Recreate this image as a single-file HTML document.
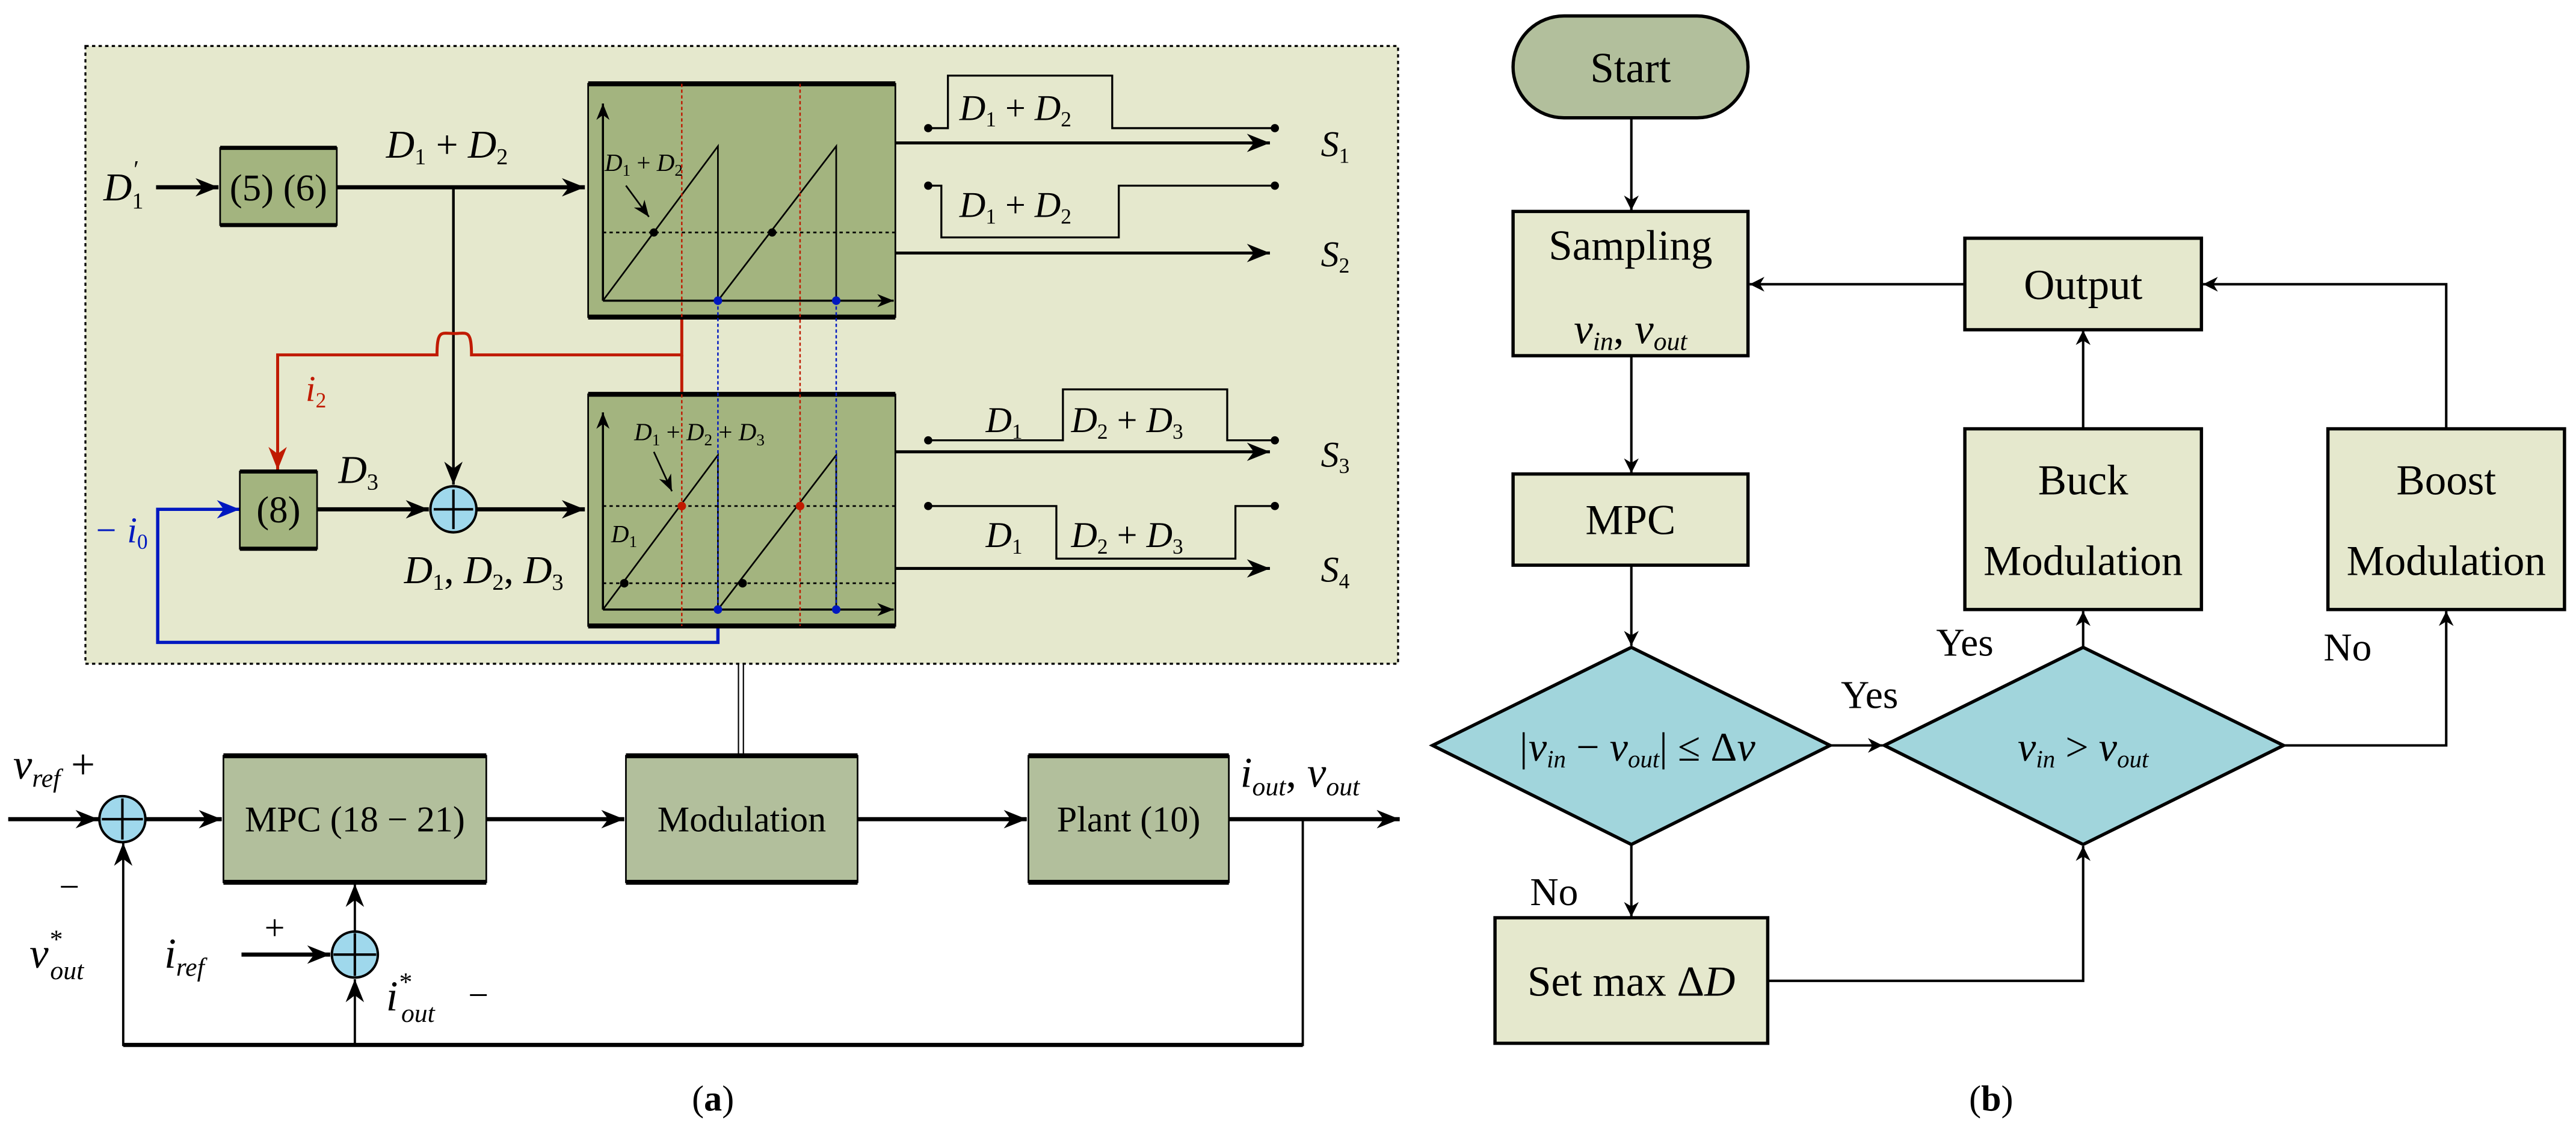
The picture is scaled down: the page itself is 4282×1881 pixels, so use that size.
<!DOCTYPE html>
<html><head><meta charset="utf-8"><style>
html,body{margin:0;padding:0;background:#fff;}
svg{display:block;font-family:"Liberation Serif","DejaVu Serif",serif;}
svg text{font-family:"Liberation Serif","DejaVu Serif",serif;fill:#000;}
.it{font-style:italic;}
</style></head><body>
<svg width="4282" height="1881" viewBox="0 0 1568 689" preserveAspectRatio="none" xmlns="http://www.w3.org/2000/svg" font-family="Liberation Serif, DejaVu Serif, serif">
<defs>
<marker id="a" viewBox="0 0 10 10" refX="10" refY="5" markerWidth="9" markerHeight="9" markerUnits="userSpaceOnUse" orient="auto"><path d="M0,0 L10,5 L0,10 L3,5 z" fill="#000"/></marker>
<marker id="ab" viewBox="0 0 10 10" refX="10" refY="5" markerWidth="14" markerHeight="14" markerUnits="userSpaceOnUse" orient="auto"><path d="M0,1 L10,5 L0,9 L3,5 z" fill="#000"/></marker>
<marker id="ar" viewBox="0 0 10 10" refX="10" refY="5" markerWidth="14" markerHeight="14" markerUnits="userSpaceOnUse" orient="auto"><path d="M0,1 L10,5 L0,9 L3,5 z" fill="#c01a00"/></marker>
<marker id="au" viewBox="0 0 10 10" refX="10" refY="5" markerWidth="14" markerHeight="14" markerUnits="userSpaceOnUse" orient="auto"><path d="M0,1 L10,5 L0,9 L3,5 z" fill="#0018c0"/></marker>
<marker id="am" viewBox="0 0 10 10" refX="10" refY="5" markerWidth="10" markerHeight="10" markerUnits="userSpaceOnUse" orient="auto"><path d="M0,1 L10,5 L0,9 L3,5 z" fill="#000"/></marker>
</defs>

<!-- dotted panel -->
<rect x="52" y="28" width="799" height="376" fill="#e5e8cd" stroke="#000" stroke-width="1.2" stroke-dasharray="2,2"/>

<!-- (5)(6) -->
<rect x="134" y="90" width="71" height="47" fill="#a3b47f" stroke="#000" stroke-width="1"/>
<line x1="134" y1="90" x2="205" y2="90" stroke="#000" stroke-width="2.5"/><line x1="134" y1="137" x2="205" y2="137" stroke="#000" stroke-width="2.5"/>
<text x="169.5" y="122" font-size="23" text-anchor="middle">(5) (6)</text>
<text x="63" y="122" font-size="24" class="it">D<tspan font-size="14" dy="5" font-style="normal">1</tspan><tspan dx="-6" dy="-19" font-size="15" font-style="normal">′</tspan></text>
<line x1="95" y1="114" x2="133" y2="114" stroke="#000" stroke-width="2.5" marker-end="url(#ab)"/>
<line x1="205" y1="114" x2="356" y2="114" stroke="#000" stroke-width="2.5" marker-end="url(#ab)"/>
<text x="235" y="96" font-size="24" class="it">D<tspan font-size="14" dy="4" font-style="normal">1</tspan><tspan dy="-4" font-style="normal"> + </tspan>D<tspan font-size="14" dy="4" font-style="normal">2</tspan></text>
<line x1="276" y1="114" x2="276" y2="295" stroke="#000" stroke-width="1.6" marker-end="url(#ab)"/>

<!-- red path -->
<path d="M415,193 L415,216 L287,216 C287,200 284,203 276.5,203 C269,203 266,200 266,216 L169,216 L169,286" fill="none" stroke="#c01a00" stroke-width="1.8" marker-end="url(#ar)"/>
<line x1="415" y1="216" x2="415" y2="240" stroke="#c01a00" stroke-width="1.8"/>
<text x="186" y="244" font-size="22" class="it" fill="#c01a00" style="fill:#c01a00">i<tspan font-size="13" dy="4" font-style="normal">2</tspan></text>

<!-- blue path -->
<path d="M437,371 L437,391 L96,391 L96,310 L146,310" fill="none" stroke="#0018c0" stroke-width="2" marker-end="url(#au)"/>
<text x="57" y="330" font-size="22" class="it" style="fill:#0018c0">− i<tspan font-size="13" dy="4" font-style="normal">0</tspan></text>

<!-- (8) -->
<rect x="146" y="287" width="47" height="47" fill="#a3b47f" stroke="#000" stroke-width="1"/>
<line x1="146" y1="287" x2="193" y2="287" stroke="#000" stroke-width="2.5"/><line x1="146" y1="334" x2="193" y2="334" stroke="#000" stroke-width="2.5"/>
<text x="169.5" y="318" font-size="23" text-anchor="middle">(8)</text>
<text x="206" y="294" font-size="24" class="it">D<tspan font-size="14" dy="4" font-style="normal">3</tspan></text>
<line x1="193" y1="310" x2="261" y2="310" stroke="#000" stroke-width="2.5" marker-end="url(#ab)"/>
<circle cx="276" cy="310" r="14" fill="#9fd8ec" stroke="#000" stroke-width="1.5"/>
<line x1="264" y1="310" x2="288" y2="310" stroke="#000" stroke-width="1.5"/><line x1="276" y1="298" x2="276" y2="322" stroke="#000" stroke-width="1.5"/>
<line x1="290" y1="310" x2="356" y2="310" stroke="#000" stroke-width="2.5" marker-end="url(#ab)"/>
<text x="246" y="355" font-size="24" class="it">D<tspan font-size="14" dy="4" font-style="normal">1</tspan><tspan dy="-4" font-style="normal">, </tspan>D<tspan font-size="14" dy="4" font-style="normal">2</tspan><tspan dy="-4" font-style="normal">, </tspan>D<tspan font-size="14" dy="4" font-style="normal">3</tspan></text>

<!-- PWM box 1 -->
<rect x="358" y="51" width="187" height="142" fill="#a3b47f" stroke="#000" stroke-width="1"/>
<line x1="358" y1="51" x2="545" y2="51" stroke="#000" stroke-width="3"/><line x1="358" y1="193" x2="545" y2="193" stroke="#000" stroke-width="3"/>
<line x1="367" y1="183" x2="367" y2="63" stroke="#000" stroke-width="1.3" marker-end="url(#am)"/>
<line x1="367" y1="183" x2="544" y2="183" stroke="#000" stroke-width="1.3" marker-end="url(#am)"/>
<path d="M367,183 L437,89 L437,183 L509,89 L509,183" fill="none" stroke="#000" stroke-width="1"/>
<line x1="367" y1="141.5" x2="545" y2="141.5" stroke="#000" stroke-width="1" stroke-dasharray="2,2"/>
<circle cx="398" cy="141.5" r="2.5" fill="#000"/><circle cx="470" cy="141.5" r="2.5" fill="#000"/>
<text x="368" y="104" font-size="15" class="it">D<tspan font-size="10" dy="3" font-style="normal">1</tspan><tspan dy="-3" font-style="normal"> + </tspan>D<tspan font-size="10" dy="3" font-style="normal">2</tspan></text>
<line x1="381" y1="113" x2="395" y2="132" stroke="#000" stroke-width="1" marker-end="url(#am)"/>

<!-- PWM box 2 -->
<rect x="358" y="240" width="187" height="141" fill="#a3b47f" stroke="#000" stroke-width="1"/>
<line x1="358" y1="240" x2="545" y2="240" stroke="#000" stroke-width="3"/><line x1="358" y1="381" x2="545" y2="381" stroke="#000" stroke-width="3"/>
<line x1="367" y1="371" x2="367" y2="251" stroke="#000" stroke-width="1.3" marker-end="url(#am)"/>
<line x1="367" y1="371" x2="544" y2="371" stroke="#000" stroke-width="1.3" marker-end="url(#am)"/>
<path d="M367,371 L437,277 L437,371 L509,277 L509,371" fill="none" stroke="#000" stroke-width="1"/>
<line x1="367" y1="308" x2="545" y2="308" stroke="#000" stroke-width="1" stroke-dasharray="2,2"/>
<line x1="367" y1="355" x2="545" y2="355" stroke="#000" stroke-width="1" stroke-dasharray="2,2"/>
<text x="386" y="268" font-size="15" class="it">D<tspan font-size="10" dy="3" font-style="normal">1</tspan><tspan dy="-3" font-style="normal"> + </tspan>D<tspan font-size="10" dy="3" font-style="normal">2</tspan><tspan dy="-3" font-style="normal"> + </tspan>D<tspan font-size="10" dy="3" font-style="normal">3</tspan></text>
<line x1="398" y1="275" x2="409" y2="299" stroke="#000" stroke-width="1" marker-end="url(#am)"/>
<text x="372" y="330" font-size="15" class="it">D<tspan font-size="10" dy="3" font-style="normal">1</tspan></text>

<!-- red/blue dotted verticals -->
<line x1="415" y1="51" x2="415" y2="381" stroke="#c01a00" stroke-width="0.9" stroke-dasharray="2,1.5"/>
<line x1="487" y1="51" x2="487" y2="381" stroke="#c01a00" stroke-width="0.9" stroke-dasharray="2,1.5"/>
<line x1="437" y1="183" x2="437" y2="371" stroke="#0018c0" stroke-width="0.9" stroke-dasharray="2,1.5"/>
<line x1="509" y1="183" x2="509" y2="371" stroke="#0018c0" stroke-width="0.9" stroke-dasharray="2,1.5"/>
<circle cx="437" cy="183" r="2.6" fill="#0018c0"/><circle cx="509" cy="183" r="2.6" fill="#0018c0"/>
<circle cx="437" cy="371" r="2.6" fill="#0018c0"/><circle cx="509" cy="371" r="2.6" fill="#0018c0"/>
<circle cx="415" cy="308" r="2.6" fill="#c01a00"/><circle cx="487" cy="308" r="2.6" fill="#c01a00"/>
<circle cx="380" cy="355" r="2.6" fill="#000"/><circle cx="452" cy="355" r="2.6" fill="#000"/>

<!-- outputs -->
<g stroke="#000" fill="none">
<line x1="545" y1="87" x2="773" y2="87" stroke-width="1.8" marker-end="url(#ab)"/>
<line x1="545" y1="154" x2="773" y2="154" stroke-width="1.8" marker-end="url(#ab)"/>
<line x1="545" y1="275" x2="773" y2="275" stroke-width="1.8" marker-end="url(#ab)"/>
<line x1="545" y1="346" x2="773" y2="346" stroke-width="1.8" marker-end="url(#ab)"/>
<path d="M565,78 L577,78 L577,46 L677,46 L677,78 L776,78" stroke-width="1.2"/>
<path d="M565,113 L573,113 L573,144.5 L681,144.5 L681,113 L776,113" stroke-width="1.2"/>
<path d="M565,268 L647,268 L647,237 L747,237 L747,268 L776,268" stroke-width="1.2"/>
<path d="M565,308 L643,308 L643,340 L752,340 L752,308 L776,308" stroke-width="1.2"/>
</g>
<g fill="#000"><circle cx="565" cy="78" r="2.5"/><circle cx="776" cy="78" r="2.5"/><circle cx="565" cy="113" r="2.5"/><circle cx="776" cy="113" r="2.5"/>
<circle cx="565" cy="268" r="2.5"/><circle cx="776" cy="268" r="2.5"/><circle cx="565" cy="308" r="2.5"/><circle cx="776" cy="308" r="2.5"/></g>
<g font-size="22">
<text x="584" y="73" class="it">D<tspan font-size="13" dy="4" font-style="normal">1</tspan><tspan dy="-4" font-style="normal"> + </tspan>D<tspan font-size="13" dy="4" font-style="normal">2</tspan></text>
<text x="584" y="132" class="it">D<tspan font-size="13" dy="4" font-style="normal">1</tspan><tspan dy="-4" font-style="normal"> + </tspan>D<tspan font-size="13" dy="4" font-style="normal">2</tspan></text>
<text x="600" y="263" class="it">D<tspan font-size="13" dy="4" font-style="normal">1</tspan></text>
<text x="652" y="263" class="it">D<tspan font-size="13" dy="4" font-style="normal">2</tspan><tspan dy="-4" font-style="normal"> + </tspan>D<tspan font-size="13" dy="4" font-style="normal">3</tspan></text>
<text x="600" y="333" class="it">D<tspan font-size="13" dy="4" font-style="normal">1</tspan></text>
<text x="652" y="333" class="it">D<tspan font-size="13" dy="4" font-style="normal">2</tspan><tspan dy="-4" font-style="normal"> + </tspan>D<tspan font-size="13" dy="4" font-style="normal">3</tspan></text>
<text x="804" y="95" class="it">S<tspan font-size="13" dy="4" font-style="normal">1</tspan></text>
<text x="804" y="162" class="it">S<tspan font-size="13" dy="4" font-style="normal">2</tspan></text>
<text x="804" y="284" class="it">S<tspan font-size="13" dy="4" font-style="normal">3</tspan></text>
<text x="804" y="354" class="it">S<tspan font-size="13" dy="4" font-style="normal">4</tspan></text>
</g>

<!-- double line -->
<line x1="449.5" y1="404" x2="449.5" y2="460" stroke="#000" stroke-width="0.8"/>
<line x1="452.5" y1="404" x2="452.5" y2="460" stroke="#000" stroke-width="0.8"/>

<!-- lower control loop -->
<g stroke="#000" fill="none" stroke-width="2.5">
<line x1="5" y1="498.6" x2="60" y2="498.6" marker-end="url(#ab)"/>
<line x1="89" y1="498.6" x2="135" y2="498.6" marker-end="url(#ab)"/>
<line x1="296" y1="498.6" x2="380" y2="498.6" marker-end="url(#ab)"/>
<line x1="522" y1="498.6" x2="625" y2="498.6" marker-end="url(#ab)"/>
<line x1="748" y1="498.6" x2="852" y2="498.6" marker-end="url(#ab)"/>
<line x1="147" y1="581" x2="201" y2="581" marker-end="url(#ab)"/>
</g>
<g stroke="#000" fill="none" stroke-width="1.4">
<path d="M793,498.6 L793,636 L75,636 L75,513" marker-end="url(#ab)"/>
<line x1="216" y1="636" x2="216" y2="596" marker-end="url(#ab)"/>
<line x1="216" y1="567" x2="216" y2="538" marker-end="url(#ab)"/>
</g>
<line x1="75" y1="636" x2="793" y2="636" stroke="#000" stroke-width="2.5"/>
<circle cx="74.5" cy="498.6" r="14" fill="#9fd8ec" stroke="#000" stroke-width="1.5"/>
<line x1="62" y1="498.6" x2="87" y2="498.6" stroke="#000" stroke-width="1.5"/><line x1="74.5" y1="486" x2="74.5" y2="511" stroke="#000" stroke-width="1.5"/>
<circle cx="216" cy="581" r="14" fill="#9fd8ec" stroke="#000" stroke-width="1.5"/>
<line x1="203" y1="581" x2="229" y2="581" stroke="#000" stroke-width="1.5"/><line x1="216" y1="568" x2="216" y2="594" stroke="#000" stroke-width="1.5"/>

<g fill="#b2bf9c" stroke="#000" stroke-width="1">
<rect x="136" y="460" width="160" height="77"/><rect x="381" y="460" width="141" height="77"/><rect x="626" y="460" width="122" height="77"/>
</g>
<g stroke="#000" stroke-width="3">
<line x1="136" y1="460" x2="296" y2="460"/><line x1="136" y1="537" x2="296" y2="537"/>
<line x1="381" y1="460" x2="522" y2="460"/><line x1="381" y1="537" x2="522" y2="537"/>
<line x1="626" y1="460" x2="748" y2="460"/><line x1="626" y1="537" x2="748" y2="537"/>
</g>
<g font-size="22" text-anchor="middle">
<text x="216" y="506">MPC (18 − 21)</text>
<text x="451.5" y="506">Modulation</text>
<text x="687" y="506">Plant (10)</text>
</g>
<g font-size="26">
<text x="8" y="474" class="it">v<tspan font-size="16" dy="5">ref</tspan><tspan dy="-5" font-style="normal"> +</tspan></text>
<text x="36" y="547" font-size="22">−</text>
<text x="18" y="589" class="it">v<tspan font-size="16" dy="-12">*</tspan><tspan font-size="16" dx="-7" dy="19">out</tspan></text>
<text x="100" y="589" class="it">i<tspan font-size="16" dy="5">ref</tspan></text>
<text x="161" y="572" font-size="22">+</text>
<text x="235" y="615" class="it">i<tspan font-size="16" dy="-12">*</tspan><tspan font-size="16" dx="-6" dy="19">out</tspan></text>
<text x="285" y="613" font-size="22">−</text>
<text x="755" y="479" class="it">i<tspan font-size="16" dy="5">out</tspan><tspan dy="-5" font-style="normal">, </tspan>v<tspan font-size="16" dy="5">out</tspan></text>
</g>
<text x="434" y="676" font-size="22" text-anchor="middle">(<tspan font-weight="bold">a</tspan>)</text>

<!-- flowchart -->
<g stroke="#000" stroke-width="1.5" fill="none">
<line x1="993" y1="72" x2="993" y2="128" marker-end="url(#a)"/>
<line x1="993" y1="216" x2="993" y2="288" marker-end="url(#a)"/>
<line x1="993" y1="344" x2="993" y2="393" marker-end="url(#a)"/>
<line x1="993" y1="514" x2="993" y2="558" marker-end="url(#a)"/>
<line x1="1114" y1="453.7" x2="1146" y2="453.7" marker-end="url(#a)"/>
<path d="M1076,597 L1268,597 L1268,515" marker-end="url(#a)"/>
<line x1="1268" y1="394" x2="1268" y2="372" marker-end="url(#a)"/>
<line x1="1268" y1="261" x2="1268" y2="201" marker-end="url(#a)"/>
<path d="M1390,453.7 L1489,453.7 L1489,372" marker-end="url(#a)"/>
<path d="M1489,261 L1489,173 L1341,173" marker-end="url(#a)"/>
<line x1="1196" y1="173" x2="1065" y2="173" marker-end="url(#a)"/>
</g>
<rect x="921" y="9.7" width="143" height="62" rx="31" fill="#b2bf9c" stroke="#000" stroke-width="2"/>
<g fill="#e5e8cd" stroke="#000" stroke-width="2">
<rect x="921" y="128.7" width="143" height="87.8"/>
<rect x="921" y="288.5" width="143" height="55.5"/>
<rect x="910" y="558.6" width="166" height="76.4"/>
<rect x="1196" y="145" width="144" height="55.7"/>
<rect x="1196" y="261" width="144" height="110"/>
<rect x="1417" y="261" width="144" height="110"/>
</g>
<g fill="#a1d5dc" stroke="#000" stroke-width="2">
<polygon points="872,453.7 993,394 1114,453.7 993,514"/>
<polygon points="1147,453.7 1268,394 1390,453.7 1268,514"/>
</g>
<g font-size="26" text-anchor="middle">
<text x="992.5" y="50">Start</text>
<text x="992.5" y="158">Sampling</text>
<text x="992.5" y="209" class="it">v<tspan font-size="16" dy="4">in</tspan><tspan dy="-4" font-style="normal">, </tspan>v<tspan font-size="16" dy="4">out</tspan></text>
<text x="992.5" y="325">MPC</text>
<text x="993" y="606">Set max Δ<tspan class="it">D</tspan></text>
<text x="1268" y="182">Output</text>
<text x="1268" y="301">Buck</text>
<text x="1268" y="350">Modulation</text>
<text x="1489" y="301">Boost</text>
<text x="1489" y="350">Modulation</text>
<text x="996" y="463" font-size="25" class="it">|v<tspan font-size="15" dy="4">in</tspan><tspan dy="-4" font-style="normal"> − </tspan>v<tspan font-size="15" dy="4">out</tspan><tspan dy="-4" font-style="normal">| ≤ Δ</tspan>v</text>
<text x="1268" y="463" font-size="25" class="it">v<tspan font-size="15" dy="4">in</tspan><tspan dy="-4" font-style="normal"> &gt; </tspan>v<tspan font-size="15" dy="4">out</tspan></text>
<text x="1138" y="431" font-size="24">Yes</text>
<text x="946" y="551" font-size="24">No</text>
<text x="1196" y="399" font-size="24">Yes</text>
<text x="1429" y="402" font-size="24">No</text>
<text x="1212" y="676" font-size="22">(<tspan font-weight="bold">b</tspan>)</text>
</g>
</svg>
</body></html>
